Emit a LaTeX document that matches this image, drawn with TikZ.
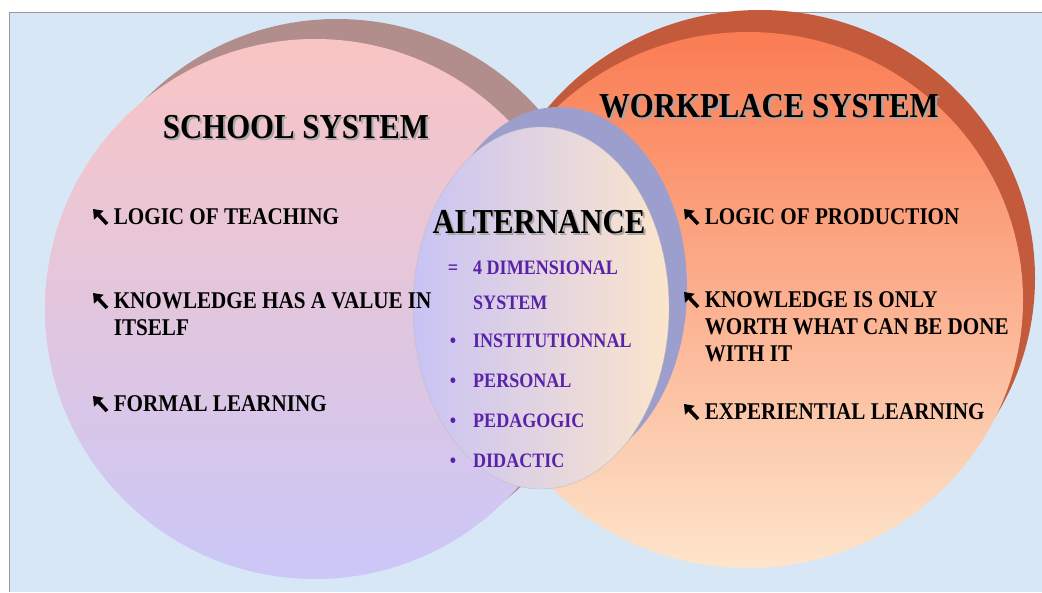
\documentclass[tikz,border=0pt]{standalone}
\usepackage{fontspec}
\setmainfont[FakeStretch=0.88]{Liberation Serif}
\usepackage{xcolor}
\usepackage{tikz}
\usetikzlibrary{positioning}
\usetikzlibrary{arrows.meta}
\usetikzlibrary{calc}
\definecolor{bgblue}{HTML}{D8E7F6}
\definecolor{schooltop}{HTML}{F9C5C4}
\definecolor{schoolbot}{HTML}{CBC7F8}
\definecolor{schoolshd}{HTML}{B18D8B}
\definecolor{worktop}{HTML}{FA7C53}
\definecolor{workbot}{HTML}{FDE5CC}
\definecolor{workshd}{HTML}{C25A3B}
\definecolor{altleft}{HTML}{C8C3F5}
\definecolor{altright}{HTML}{FCE5CB}
\definecolor{altshd}{HTML}{9C9ECE}
\definecolor{altpurple}{HTML}{5A22A8}
\tikzstyle{title} = [font=\fontsize{35}{40}\selectfont\bfseries,
	inner sep=0pt, anchor=base]
\tikzstyle{item} = [font=\fontsize{24}{27}\selectfont\bfseries,
	inner sep=0pt, anchor=base west]
\tikzstyle{altitem} = [font=\fontsize{20.5}{22}\selectfont\bfseries,
	text=altpurple, inner sep=0pt, anchor=base west]
\tikzstyle{altmark} = [altitem, anchor=base]
\tikzstyle{nwarrow} = [line width=3.6pt, -{Triangle[length=8.5pt, width=12.5pt]}]
\newcommand{\nwarr}{\tikz[baseline=0pt]\draw[nwarrow] (14pt,0pt) -- (0pt,15pt);}
\newcommand{\shadowtitle}[3]{\node[title, text=black!35] (#1s) at ($#2+(2,2)$) {#3};
	\node[title] (#1) at #2 {#3}}
\newcommand{\arritem}[3]{\node[item] (#1) at #2 {\begin{tabular}[t]{@{}l@{\hspace{5pt}}l@{}}\nwarr & #3\end{tabular}}}
\newcommand{\altitem}[4]{\node[altmark] (#1m) at (453,#2) {#3};
	\node[altitem] (#1) at (473,#2) {#4}}

\begin{document}
\begin{tikzpicture}[x=1pt, y=-1pt]
	\useasboundingbox (0,0) rectangle (1042,592);
	\fill[white] (0,0) rectangle (1042,592);
	\fill[bgblue] (9,12) rectangle (1042,592);
	\draw[black!40, line width=1pt] (9,592) -- (9,12) -- (1042,12);
	
	\fill[schoolshd] (337,289) circle (270);
	\shade[top color=schooltop, bottom color=schoolbot] (315,309) circle (270);
	\fill[workshd] (760,278) ellipse [x radius=275, y radius=268];
	\shade[top color=worktop, bottom color=workbot] (748,300) ellipse [x radius=275, y radius=268];
	\fill[altshd] (559,288) ellipse [x radius=128, y radius=181];
	\shade[left color=altleft, right color=altright, draw=black!25, line width=0.4pt] (541,308) ellipse [x radius=128, y radius=181];
	
	\shadowtitle{school}{(296,138)}{SCHOOL SYSTEM};
	\shadowtitle{work}{(769,117)}{WORKPLACE SYSTEM};
	\shadowtitle{alt}{(539,233)}{ALTERNANCE};
	
	\arritem{teach}{(91,224)}{LOGIC OF TEACHING};
	\arritem{value}{(91,308)}{KNOWLEDGE HAS A VALUE IN\\ & ITSELF};
	\arritem{formal}{(91,411)}{FORMAL LEARNING};
	
	\arritem{prod}{(682,224)}{LOGIC OF PRODUCTION};
	\arritem{worth}{(682,307)}{KNOWLEDGE IS ONLY\\ & WORTH WHAT CAN BE DONE\\ & WITH IT};
	\arritem{exper}{(682,419)}{EXPERIENTIAL LEARNING};
	
	\altitem{dim}{274}{=}{4 DIMENSIONAL};
	\node[altitem] (dimb) at (473,309) {SYSTEM};
	\altitem{inst}{347}{\textbullet}{INSTITUTIONNAL};
	\altitem{pers}{387}{\textbullet}{PERSONAL};
	\altitem{peda}{427}{\textbullet}{PEDAGOGIC};
	\altitem{dida}{467}{\textbullet}{DIDACTIC};
\end{tikzpicture}
\end{document}
